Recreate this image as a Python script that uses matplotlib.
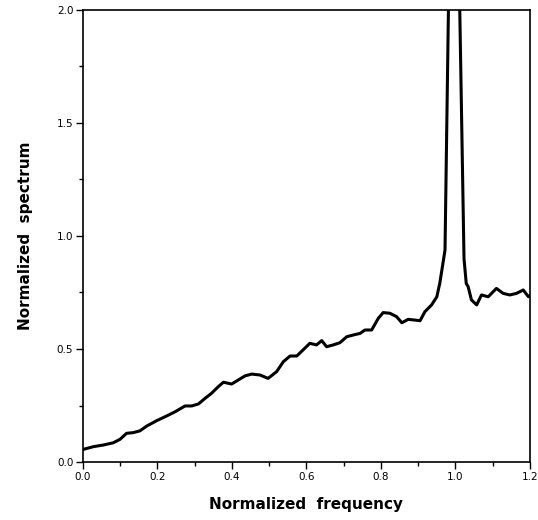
import numpy as np
import matplotlib
matplotlib.use("Agg")
import matplotlib.pyplot as plt
from matplotlib.ticker import MultipleLocator

# values
freq = [0.001, 0.028, 0.054, 0.081, 0.099, 0.117, 0.135, 0.153, 0.171, 0.198,
        0.225, 0.247, 0.274, 0.292, 0.310, 0.328, 0.345, 0.363, 0.377, 0.399,
        0.417, 0.435, 0.453, 0.475, 0.497, 0.520, 0.538, 0.556, 0.574, 0.591,
        0.609, 0.627, 0.641, 0.654, 0.672, 0.690, 0.708, 0.726, 0.744, 0.757,
        0.775, 0.793, 0.806, 0.824, 0.842, 0.856, 0.873, 0.891, 0.905, 0.918,
        0.936, 0.950, 0.958, 0.965, 0.972, 0.995, 1.023, 1.029, 1.034, 1.043,
        1.057, 1.070, 1.088, 1.110, 1.128, 1.146, 1.164, 1.182, 1.196, 1.200]
spectrum = [0.056, 0.068, 0.075, 0.085, 0.100, 0.127, 0.130, 0.138, 0.159, 0.183,
            0.204, 0.222, 0.248, 0.248, 0.257, 0.282, 0.304, 0.333, 0.353, 0.345,
            0.363, 0.381, 0.389, 0.385, 0.370, 0.400, 0.444, 0.469, 0.469, 0.496,
            0.525, 0.518, 0.537, 0.510, 0.518, 0.528, 0.554, 0.562, 0.569, 0.584,
            0.584, 0.636, 0.661, 0.658, 0.643, 0.616, 0.631, 0.628, 0.625, 0.665,
            0.695, 0.731, 0.791, 0.864, 0.938, 3.600, 0.900, 0.790, 0.776, 0.717,
            0.695, 0.739, 0.731, 0.768, 0.746, 0.739, 0.746, 0.761, 0.731, 0.735]

plt.rcParams['font.family'] = ['DejaVu Sans']

fig = plt.figure(figsize=(5.38, 5.2), dpi=100)
ax = fig.add_axes([0.1543, 0.1115, 0.8307, 0.8695])

ax.plot(freq, spectrum, color='black', linewidth=2.2)

ax.set_xlim(0, 1.2)
ax.set_ylim(0, 2.0)
ax.xaxis.set_major_locator(MultipleLocator(0.2))
ax.xaxis.set_minor_locator(MultipleLocator(0.1))
ax.yaxis.set_major_locator(MultipleLocator(0.5))
ax.yaxis.set_minor_locator(MultipleLocator(0.25))
ax.tick_params(which='major', direction='out', length=5, width=1, labelsize=7.5, pad=2)
ax.tick_params(which='minor', direction='out', length=3, width=1)
ax.xaxis.set_major_formatter(plt.FuncFormatter(lambda v, p: f"{v:.1f}"))
ax.yaxis.set_major_formatter(plt.FuncFormatter(lambda v, p: f"{v:.1f}"))
for s in ax.spines.values():
    s.set_linewidth(1.2)

ax.set_xlabel('Normalized  frequency', fontsize=11, fontweight='bold', labelpad=11)
ax.set_ylabel('Normalized  spectrum', fontsize=11, fontweight='bold', labelpad=17)

fig.savefig('out.png', dpi=100)
